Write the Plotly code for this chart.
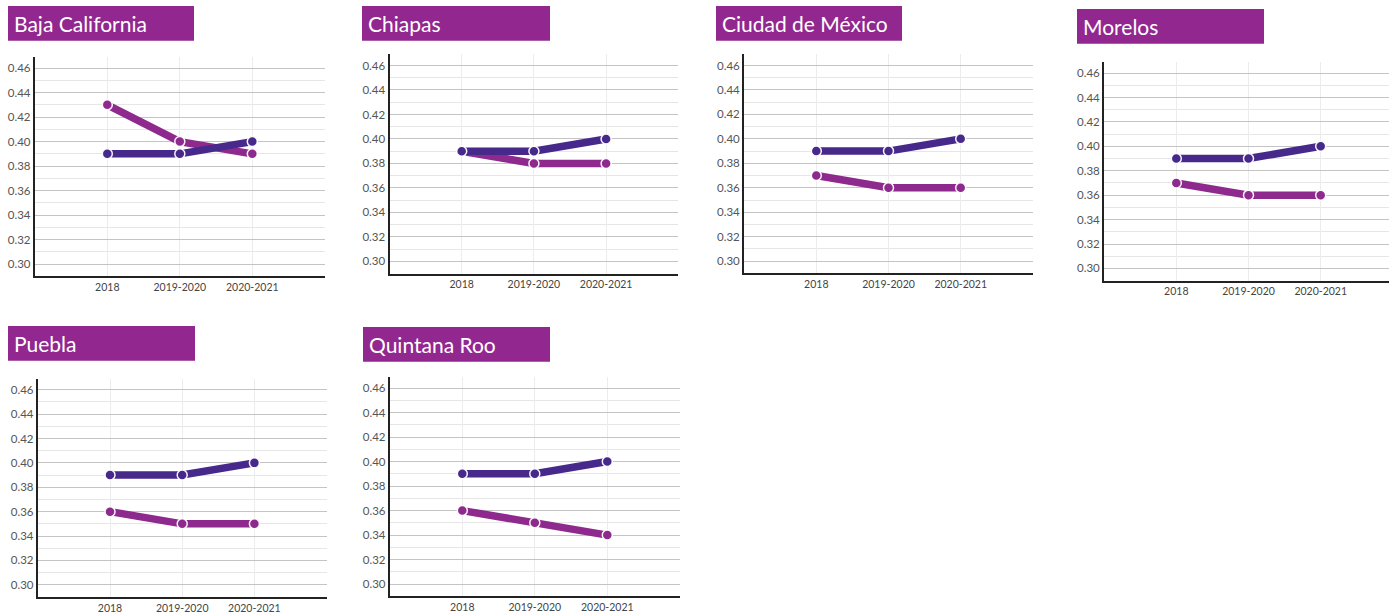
import plotly.graph_objects as go

W, H = 1389, 614

categories = ["2018", "2019-2020", "2020-2021"]
states = ["Baja California", "Chiapas", "Ciudad de México", "Morelos", "Puebla", "Quintana Roo"]

# series 1 (indigo)
indigo_values = [
    [0.39, 0.39, 0.40],
    [0.39, 0.39, 0.40],
    [0.39, 0.39, 0.40],
    [0.39, 0.39, 0.40],
    [0.39, 0.39, 0.40],
    [0.39, 0.39, 0.40],
]
# series 2 (magenta)
magenta_values = [
    [0.43, 0.40, 0.39],
    [0.39, 0.38, 0.38],
    [0.37, 0.36, 0.36],
    [0.37, 0.36, 0.36],
    [0.36, 0.35, 0.35],
    [0.36, 0.35, 0.34],
]

y_ticks = [0.30, 0.32, 0.34, 0.36, 0.38, 0.40, 0.42, 0.44, 0.46]

INDIGO = "#47298b"
MAGENTA = "#8e2a8e"
TITLE_BG = "#92278f"

# panel geometry in pixels: title box, first category x, category spacing, y px of 0.46, y px of 0.30
panels = [
    dict(box=(8, 6, 194, 41), c0=107.3, s=72.5, y46=68.3, y30=265.0),
    dict(box=(362, 6, 550, 41), c0=461.7, s=72.2, y46=65.7, y30=262.3),
    dict(box=(716, 6, 902, 41), c0=816.3, s=72.2, y46=65.7, y30=262.0),
    dict(box=(1077, 9, 1264, 44), c0=1176.3, s=72.2, y46=73.3, y30=269.3),
    dict(box=(8, 327, 195, 362), c0=110.0, s=72.2, y46=391.0, y30=586.7),
    dict(box=(363, 328, 550, 363), c0=462.3, s=72.5, y46=389.3, y30=586.0),
]

Y_LO, Y_HI = 0.29, 0.469

fig = go.Figure()
shapes = []
annotations = []
layout_axes = {}

for i, (name, p) in enumerate(zip(states, panels)):
    n = i + 1
    xa = "x" if n == 1 else f"x{n}"
    ya = "y" if n == 1 else f"y{n}"

    fig.add_trace(go.Scatter(
        x=categories, y=magenta_values[i], mode="lines+markers",
        line=dict(color=MAGENTA, width=7.5),
        marker=dict(size=10, color=MAGENTA, line=dict(color="rgba(255,255,255,0.95)", width=1.5)),
        xaxis=xa, yaxis=ya, showlegend=False, name=name,
    ))
    fig.add_trace(go.Scatter(
        x=categories, y=indigo_values[i], mode="lines+markers",
        line=dict(color=INDIGO, width=7.5),
        marker=dict(size=10, color=INDIGO, line=dict(color="rgba(255,255,255,0.95)", width=1.5)),
        xaxis=xa, yaxis=ya, showlegend=False, name=name,
    ))

    c0, s = p["c0"], p["s"]
    x0px = max(c0 - s, 0)
    x1px = min(c0 + 3 * s, W)
    xr = [(x0px - c0) / s, (x1px - c0) / s]

    k = (p["y30"] - p["y46"]) / 0.16
    ytop_px = p["y46"] - (Y_HI - 0.46) * k
    ybot_px = p["y30"] + (0.30 - Y_LO) * k

    layout_axes["xaxis" if n == 1 else f"xaxis{n}"] = dict(
        domain=[x0px / W, x1px / W], anchor=ya, type="category",
        range=xr, showgrid=True, gridcolor="#ececec", gridwidth=1,
        showline=True, linecolor="#222222", linewidth=2,
        ticks="", tickfont=dict(family="Lato", size=10.5, color="#444444"),
        zeroline=False, fixedrange=True,
    )
    layout_axes["yaxis" if n == 1 else f"yaxis{n}"] = dict(
        domain=[1 - ybot_px / H, 1 - ytop_px / H], anchor=xa,
        range=[Y_LO, Y_HI], tickvals=y_ticks,
        ticktext=[f"{v:.2f}" for v in y_ticks],
        showgrid=True, gridcolor="#c4c4c4", gridwidth=1,
        minor=dict(dtick=0.01, tick0=0.30, showgrid=True, gridcolor="#e6e6e6", gridwidth=1),
        showline=True, linecolor="#222222", linewidth=2,
        ticks="", tickfont=dict(family="Lato", size=11.5, color="#555555"),
        zeroline=False, fixedrange=True,
    )

    bx0, by0, bx1, by1 = p["box"]
    shapes.append(dict(
        type="rect", xref="paper", yref="paper",
        x0=bx0 / W, x1=bx1 / W, y0=1 - by1 / H, y1=1 - by0 / H,
        fillcolor=TITLE_BG, line=dict(width=0), layer="above",
    ))
    annotations.append(dict(
        text=name, xref="paper", yref="paper",
        x=(bx0 + 4) / W, y=1 - ((by0 + by1) / 2) / H,
        xanchor="left", yanchor="middle", showarrow=False,
        font=dict(family="Lato", size=21, color="white"),
    ))

fig.update_layout(
    width=W, height=H,
    margin=dict(l=0, r=0, t=0, b=0),
    paper_bgcolor="white", plot_bgcolor="white",
    showlegend=False,
    shapes=shapes, annotations=annotations,
    **layout_axes,
)

fig.write_html(
    "out.html",
    config={"displayModeBar": False},
    post_script="document.body.style.margin='0';document.body.style.overflow='hidden';",
)
